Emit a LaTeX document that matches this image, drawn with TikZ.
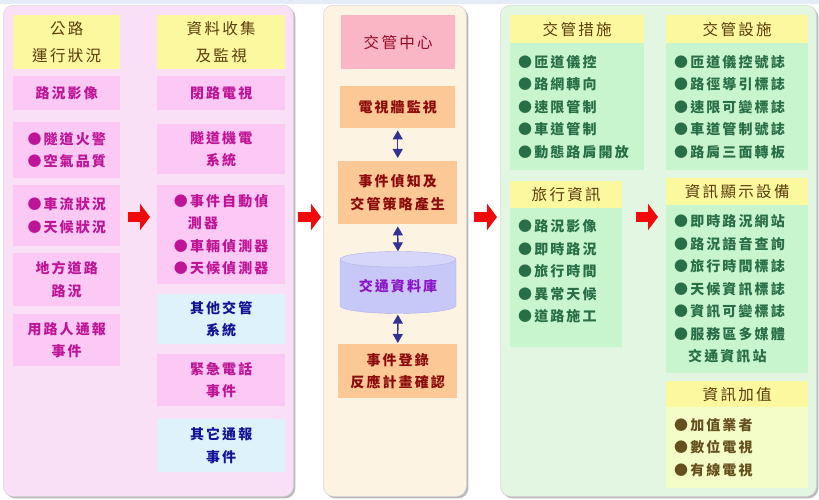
\documentclass[tikz,border=0pt]{standalone}
\usepackage{fontspec}
\setmainfont[LetterSpace=15]{Noto Sans CJK TC}
\usepackage{tikz}
\usetikzlibrary{arrows.meta, shapes.geometric, shadows, calc}

\definecolor{TopBand}{RGB}{228,236,248}
\definecolor{PinkPanel}{RGB}{250,224,246}
\definecolor{PinkBox}{RGB}{252,200,244}
\definecolor{HeadYellow}{RGB}{252,248,160}
\definecolor{SkyBox}{RGB}{222,242,252}
\definecolor{MagentaText}{RGB}{190,20,150}
\definecolor{NavyText}{RGB}{20,20,150}
\definecolor{BrownText}{RGB}{90,60,10}
\definecolor{CreamPanel}{RGB}{253,243,226}
\definecolor{RoseBox}{RGB}{250,182,196}
\definecolor{PeachBox}{RGB}{252,200,150}
\definecolor{MaroonText}{RGB}{150,10,40}
\definecolor{DarkRed}{RGB}{140,10,10}
\definecolor{LavenderBody}{RGB}{200,200,248}
\definecolor{LavenderTop}{RGB}{214,214,250}
\definecolor{LavenderEdge}{RGB}{175,175,235}
\definecolor{PurpleText}{RGB}{140,20,200}
\definecolor{ArrowBlue}{RGB}{50,50,150}
\definecolor{GreenPanel}{RGB}{226,246,226}
\definecolor{GreenBox}{RGB}{200,244,206}
\definecolor{GreenText}{RGB}{40,110,70}
\definecolor{PaleYellow}{RGB}{244,252,200}
\definecolor{OliveText}{RGB}{100,80,30}
\definecolor{ArrowRed}{RGB}{240,10,10}

\newcommand{\itemfont}{\fontsize{14}{22.5}\selectfont\bfseries}
\newcommand{\headfont}{\fontsize{15.5}{27}\selectfont}

\begin{document}
\begin{tikzpicture}[x=1pt, y=-1pt,
    panel/.style={anchor=north west, inner sep=0pt, rounded corners=10pt,
                  draw=black!15, line width=0.6pt,
                  drop shadow={shadow xshift=2pt, shadow yshift=-2pt, fill=black!45, opacity=.6}},
    box/.style={anchor=north west, inner sep=0pt, align=center, font=\itemfont},
    pinkbox/.style={box, fill=PinkBox, text=MagentaText},
    skybox/.style={box, fill=SkyBox, text=NavyText},
    headbox/.style={box, fill=HeadYellow, text=BrownText, font=\headfont},
    peachbox/.style={box, fill=PeachBox, text=DarkRed},
    listbox/.style={box, align=left, inner xsep=8pt, text width=#1},
    greenlist/.style={listbox=#1, fill=GreenBox, text=GreenText},
    dbshape/.style={cylinder, shape border rotate=90, aspect=0.2, inner sep=0pt,
                    minimum height=62pt, minimum width=116pt,
                    cylinder uses custom fill, cylinder body fill=LavenderBody,
                    cylinder end fill=LavenderTop, draw=LavenderEdge,
                    text=PurpleText, font=\itemfont},
    redarr/.style={draw=ArrowRed, line width=10pt, -{Triangle[length=10pt, width=26pt]}},
    dblarr/.style={draw=ArrowBlue, line width=1.3pt,
                   {Triangle[length=9pt, width=10pt]}-{Triangle[length=9pt, width=10pt]}}
  ]
  \useasboundingbox (0,0) rectangle (819,500);
  \fill[white] (0,0) rectangle (819,500);
  \fill[TopBand] (0,0) rectangle (819,4);

  % three panels
  \node[panel, fill=PinkPanel, minimum width=290, minimum height=491] (lpanel) at (3,5) {};
  \node[panel, fill=CreamPanel, minimum width=143, minimum height=491] (mpanel) at (323,5) {};
  \node[panel, fill=GreenPanel, minimum width=316, minimum height=491] (rpanel) at (500,5) {};

  % road conditions / data collection
  \node[headbox, minimum width=107, minimum height=54] (hwyhead) at (13,15) {公路\\運行狀況};
  \node[headbox, minimum width=128, minimum height=54] (colhead) at (157,15) {資料收集\\及監視};
  \node[pinkbox, minimum width=107, minimum height=34] (roadimg) at (13,76) {路況影像};
  \node[pinkbox, minimum width=128, minimum height=34] (cctv) at (157,76) {閉路電視};
  \node[pinkbox, minimum width=107, minimum height=56] (tunnelc) at (13,122) {●隧道火警\\●空氣品質};
  \node[pinkbox, minimum width=128, minimum height=50] (tunnelm) at (157,124) {隧道機電\\系統};
  \node[pinkbox, minimum width=107, minimum height=61] (flowc) at (13,185) {●車流狀況\\●天候狀況};
  \node[pinkbox, align=left, minimum width=128, minimum height=99] (detect) at (157,185)
    {●事件自動偵\\\phantom{●}測器\\●車輛偵測器\\●天候偵測器};
  \node[pinkbox, minimum width=107, minimum height=53] (localrd) at (13,253) {地方道路\\路況};
  \node[pinkbox, minimum width=107, minimum height=52] (userrep) at (13,314) {用路人通報\\事件};
  \node[skybox, minimum width=128, minimum height=50] (othertm) at (157,294) {其他交管\\系統};
  \node[pinkbox, minimum width=128, minimum height=52] (emerg) at (157,354) {緊急電話\\事件};
  \node[skybox, minimum width=128, minimum height=53] (otherrep) at (157,419) {其它通報\\事件};

  % traffic management centre
  \node[box, fill=RoseBox, text=MaroonText, font=\headfont, minimum width=114, minimum height=54] (tmc) at (341,15) {交管中心};
  \node[peachbox, minimum width=115, minimum height=42] (tvwall) at (340,86) {電視牆監視};
  \node[peachbox, minimum width=119, minimum height=63] (detectc) at (338,161) {事件偵知及\\交管策略產生};
  \node[dbshape] (db) at (398,286.5) {交通資料庫};
  \node[peachbox, minimum width=119, minimum height=54] (regist) at (338,344) {事件登錄\\反應計畫確認};

  \draw[dblarr, shorten <=2pt, shorten >=3pt] (tvwall) -- (detectc);
  \draw[dblarr, shorten <=2pt] (detectc) -- (db);
  \draw[dblarr, shorten <=1pt, shorten >=1pt] (db) -- (regist);

  % measures and information
  \node[headbox, minimum width=134, minimum height=28] (meash) at (510,15) {交管措施};
  \node[greenlist=118, minimum height=127] (measb) at (510,43)
    {●匝道儀控\\●路網轉向\\●速限管制\\●車道管制\\●動態路肩開放};
  \node[headbox, minimum width=142, minimum height=28] (facih) at (666,15) {交管設施};
  \node[greenlist=126, minimum height=127] (facib) at (666,43)
    {●匝道儀控號誌\\●路徑導引標誌\\●速限可變標誌\\●車道管制號誌\\●路肩三面轉板};
  \node[headbox, minimum width=112, minimum height=27] (travh) at (510,181) {旅行資訊};
  \node[greenlist=96, minimum height=139] (travb) at (510,208)
    {●路況影像\\●即時路況\\●旅行時間\\●異常天候\\●道路施工\\[-9pt]\mbox{}};
  \node[headbox, minimum width=142, minimum height=27] (disph) at (666,178) {資訊顯示設備};
  \node[greenlist=126, minimum height=168] (dispb) at (666,205)
    {●即時路況網站\\●路況語音查詢\\●旅行時間標誌\\●天候資訊標誌\\●資訊可變標誌\\●服務區多媒體\\\phantom{●}交通資訊站};
  \node[headbox, minimum width=142, minimum height=26] (valueh) at (666,381) {資訊加值};
  \node[listbox=126, fill=PaleYellow, text=OliveText, minimum height=81] (valueb) at (666,407)
    {●加值業者\\●數位電視\\●有線電視};

  % flow arrows
  \coordinate (midline) at (0,217);
  \draw[redarr, shorten <=8pt, shorten >=7pt] (flowc.east |- midline) -- (detect.west |- midline);
  \draw[redarr, shorten <=4pt, shorten >=2pt] (lpanel.east |- midline) -- (mpanel.west |- midline);
  \draw[redarr, shorten <=7pt, shorten >=3pt] (mpanel.east |- midline) -- (rpanel.west |- midline);
  \draw[redarr, shorten <=14pt, shorten >=8pt] (travb.east |- midline) -- (dispb.west |- midline);
\end{tikzpicture}
\end{document}
